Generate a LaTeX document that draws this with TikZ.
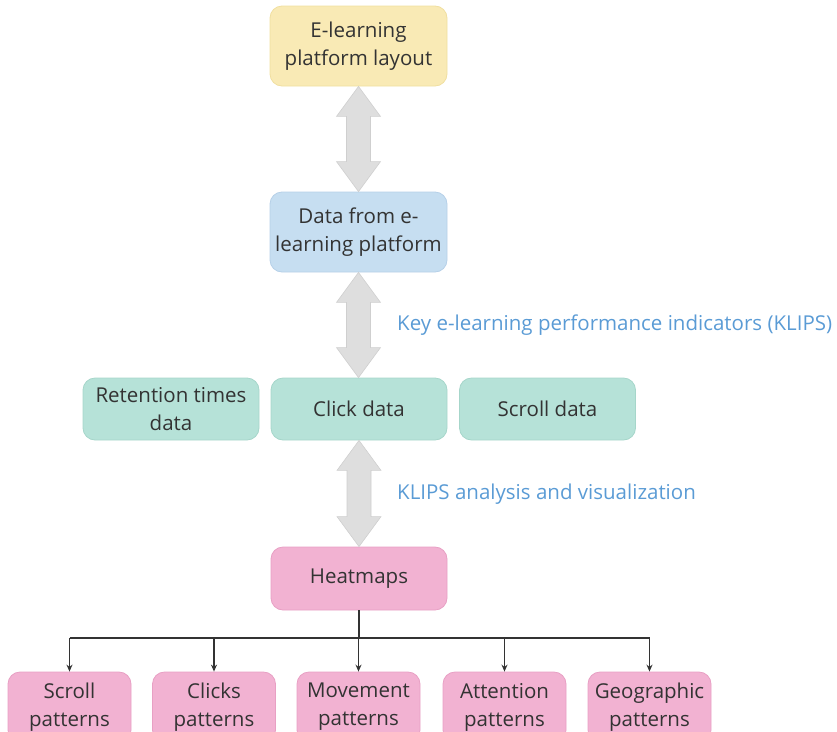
\documentclass[tikz,border=0pt]{standalone}
\usepackage{fontspec}
\setmainfont{Open Sans}
\usetikzlibrary{calc,arrows.meta,positioning}
\definecolor{txt}{HTML}{333333}
\definecolor{lbl}{HTML}{5A9BD5}
\definecolor{yel}{HTML}{F9EAB5}
\definecolor{yelb}{HTML}{F0DFA0}
\definecolor{blu}{HTML}{C6DEF1}
\definecolor{blub}{HTML}{B6D0E8}
\definecolor{tea}{HTML}{B6E2D8}
\definecolor{teab}{HTML}{A6D6CA}
\definecolor{pnk}{HTML}{F2B2D2}
\definecolor{pnkb}{HTML}{E8A0C4}
\definecolor{arrg}{HTML}{DEDEDE}
\definecolor{arrb}{HTML}{CFCFCF}
\tikzset{
  box/.style={rounded corners=12pt, line width=0.8pt, align=center, text=txt,
    font=\fontsize{20.5}{28}\selectfont, inner sep=0pt},
  bigbox/.style={box, minimum width=177pt, minimum height=80pt},
  rowbox/.style={box, minimum width=176pt, minimum height=62pt},
  pat/.style={box, minimum width=123pt, minimum height=70pt, fill=pnk, draw=pnkb},
  lab/.style={text=lbl, font=\fontsize{20.5}{24}\selectfont, anchor=west, inner sep=0pt},
  tree/.style={draw=txt, line width=1.3pt, -{Stealth[length=7pt,width=6pt]}}
}
\newcommand{\dblarr}[2]{%
  \path let \p1=(#1.south), \p2=(#2.north) in
   [fill=arrg, draw=arrb, line width=0.6pt]
   (\x1,\y1) -- (\x1+22pt,\y1-30pt) -- (\x1+12pt,\y1-30pt) -- (\x1+12pt,\y2+30pt)
   -- (\x1+22pt,\y2+30pt) -- (\x1,\y2) -- (\x1-22pt,\y2+30pt) -- (\x1-12pt,\y2+30pt)
   -- (\x1-12pt,\y1-30pt) -- (\x1-22pt,\y1-30pt) -- cycle;}
\begin{document}
\begin{tikzpicture}[x=1pt,y=-1pt]
\useasboundingbox (0,0) rectangle (837,731);
\clip (0,0) rectangle (837,731);
\node[bigbox, fill=yel, draw=yelb] (layout) at (358.5,46) {E-learning\\platform layout};
\node[bigbox, fill=blu, draw=blub] (data) at (358.5,232) {Data from e-\\learning platform};
\node[rowbox, fill=tea, draw=teab] (ret) at (171,409) {Retention times\\data};
\node[rowbox, fill=tea, draw=teab] (click) at (359,409) {Click data};
\node[rowbox, fill=tea, draw=teab] (scroll) at (547.5,409) {Scroll data};
\node[box, minimum width=176pt, minimum height=63pt, fill=pnk, draw=pnkb] (heat) at (359,578.5) {Heatmaps};
\node[pat] (p1) at (69.5,707) {Scroll\\patterns};
\node[pat] (p2) at (214,707) {Clicks\\patterns};
\node[pat] (p3) at (358.5,707) {Movement\\patterns};
\node[pat] (p4) at (504.5,707) {Attention\\patterns};
\node[pat] (p5) at (649.5,707) {Geographic\\patterns};
\dblarr{layout}{data}
\dblarr{data}{click}
\dblarr{click}{heat}
\node[lab] (l1) at (397,325) {Key e-learning performance indicators (KLIPS)};
\node[lab] (l2) at (397,494) {KLIPS analysis and visualization};
\coordinate (hub) at (359,638);
\draw[draw=txt, line width=1.3pt] (heat.south) -- (hub);
\draw[draw=txt, line width=1.3pt] (p1.north |- hub) -- (p5.north |- hub);
\foreach \p in {p1,p2,p3,p4,p5} \draw[tree] (\p.north |- hub) -- (\p.north);
\end{tikzpicture}
\end{document}
